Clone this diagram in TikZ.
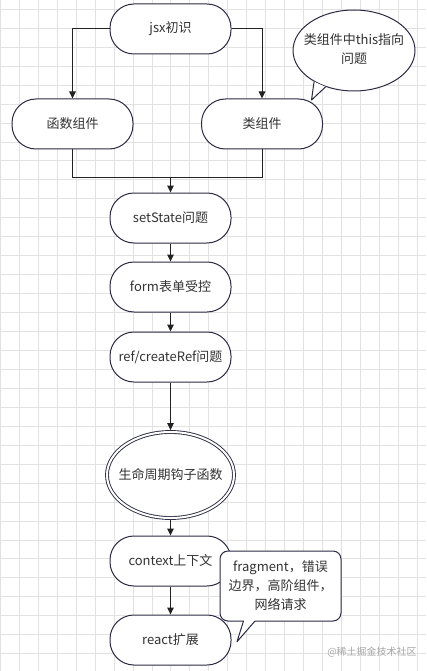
\documentclass[tikz,border=0pt]{standalone}
\usepackage{fontspec}
\setmainfont{Noto Sans CJK SC}
\usetikzlibrary{arrows.meta,shapes.geometric}
\definecolor{edge}{HTML}{2B2B45}
\definecolor{txt}{HTML}{333333}
\definecolor{gridc}{HTML}{E2E2E2}
\definecolor{arrc}{HTML}{222222}
\begin{document}
\begin{tikzpicture}[x=1pt,y=-1pt,
  lbl/.style={text=txt,font=\fontsize{13}{19}\selectfont},
  term/.style={lbl,draw=edge,line width=1pt,fill=white,rounded corners=24pt,minimum width=121pt,minimum height=50pt,inner sep=0pt},
  arr/.style={draw=arrc,line width=1pt,-{Triangle[length=7pt,width=6.5pt]}},
  ln/.style={draw=arrc,line width=1pt},
  tail/.style={draw=edge,line width=1pt,line join=round,fill=white},
]
\useasboundingbox (0,0) rectangle (426,671);
\fill[white] (0,0) rectangle (426,671);
\foreach \i in {0,...,22} \draw[gridc,line width=0.8pt] ({0.3+18.95*\i},0) -- ++(0,671);
\foreach \j in {0,...,35} \draw[gridc,line width=0.8pt] (0,{9.3+18.95*\j}) -- ++(426,0);

\node[term] (jsx) at (170.5,29) {jsx初识};
\node[term] (fn) at (72.5,124) {函数组件};
\node[term] (cls) at (262,124) {类组件};
\node[term] (ss) at (170.5,218) {setState问题};
\node[term] (form) at (170.5,287) {form表单受控};
\node[term] (ref) at (170.5,357) {ref/createRef问题};
\node[lbl,draw=edge,ellipse,double,double distance=2pt,line width=0.9pt,fill=white,inner sep=0pt,outer sep=1.9pt,minimum width=127pt,minimum height=86pt] (life) at (170.5,475) {\makebox[0pt]{生命周期钩子函数}};
\node[term] (ctx) at (170.5,561) {context上下文};
\node[term] (react) at (170.5,640) {react扩展};

\coordinate (j) at (170.5,177);
\draw[arr] (jsx.west) -| (fn.north);
\draw[arr] (jsx.east) -| (cls.north);
\draw[ln] (fn.south) |- (j);
\draw[ln] (cls.south) |- (j);
\draw[arr] (j) -- (ss.north);
\draw[arr] (ss) -- (form);
\draw[arr] (form) -- (ref);
\draw[arr] (ref) -- (life.north);
\draw[arr] (life.south) -- (ctx);
\draw[arr] (ctx) -- (react);

% callout 1
\node[lbl,draw=edge,line width=1pt,fill=white,ellipse,inner sep=0pt,minimum width=122pt,minimum height=81pt] (c1) at (354,50.5)
  {\makebox[0pt]{\begin{tabular}{@{}c@{}}类组件中this指向\\问题\end{tabular}}};
\coordinate (t1) at (311.5,100);
\path[tail,draw=none] (c1.218) -- (t1) -- (c1.232) -- cycle;
\draw[tail,fill=none] (c1.218) -- (t1) -- (c1.232);

% callout 2
\node[lbl,draw=edge,line width=1pt,fill=white,rounded corners=8pt,inner sep=0pt,minimum width=121pt,minimum height=70pt,align=center] (c2) at (280.5,586)
  {fragment，错误\\边界，高阶组件，\\网络请求};
\coordinate (b1) at (243.5,621);
\coordinate (b2) at (255,621);
\coordinate (t2) at (237,641.7);
\fill[white] (243.9,619.8) rectangle (254.6,622);
\path[tail,draw=none] (b1) -- (t2) -- (b2) -- cycle;
\draw[tail,fill=none] (b1) -- (t2) -- (b2);

\node[text=black!35,font=\fontsize{10}{12}\selectfont] (wm) at (372,652) {@稀土掘金技术社区};
\end{tikzpicture}
\end{document}
